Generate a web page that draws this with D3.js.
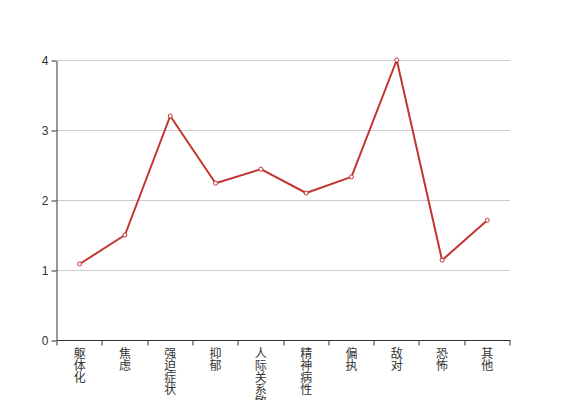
<!DOCTYPE html>
<html><head><meta charset="utf-8">
<script src="https://cdn.jsdelivr.net/npm/d3@7"></script>
<style>body{margin:0;background:#fff}svg{display:block}</style>
</head><body>
<svg id="c" width="567" height="400"></svg>
<script>
const categories = ["躯体化","焦虑","强迫症状","抑郁","人际关系敏感","精神病性","偏执","敌对","恐怖","其他"];
const values = [1.086, 1.5, 3.2, 2.24, 2.44, 2.1, 2.33, 4.0, 1.14, 1.71];
const yTicks = [0, 1, 2, 3, 4];

(function () {
const svg = d3.select("#c");
const mLeft = 57, mRight = 510, mTop = 60, mBottom = 340;
const x = d3.scaleBand().domain(categories).range([mLeft, mRight]);
const y = d3.scaleLinear().domain([0, 4]).range([mBottom, mTop]);
const font = "'Noto Sans CJK SC', 'DejaVu Sans', sans-serif";

// grid
svg.append("g").selectAll("line").data(yTicks.filter(d => d > 0)).join("line")
  .attr("x1", mLeft).attr("x2", mRight)
  .attr("y1", d => Math.round(y(d)) + 0.5).attr("y2", d => Math.round(y(d)) + 0.5)
  .attr("stroke", "#ccc").attr("stroke-width", 1);

// y axis
const ya = svg.append("g").attr("transform", `translate(${mLeft - 0.5},0.5)`)
  .call(d3.axisLeft(y).tickValues(yTicks).tickFormat(d3.format("d")).tickSize(5).tickPadding(3).tickSizeOuter(0));
ya.select(".domain").attr("stroke", "#333");
ya.selectAll(".tick line").attr("stroke", "#333");
ya.selectAll("text").attr("fill", "#333").style("font-size", "12px").style("font-family", "sans-serif");

// x axis
const xa = svg.append("g").attr("transform", `translate(0.5,${mBottom + 0.5})`)
  .call(d3.axisBottom(x).tickSize(0).tickFormat(""));
xa.select(".domain").attr("stroke", "#333").attr("d", `M${mLeft - 0.5},0H${mRight}`);
xa.selectAll(".tick").remove();
const bounds = categories.map(c => x(c)).concat([mRight]);
xa.selectAll("line.tk").data(bounds).join("line").attr("class", "tk")
  .attr("x1", d => Math.round(d) - 0.5).attr("x2", d => Math.round(d) - 0.5)
  .attr("y1", 0).attr("y2", 5).attr("stroke", "#333");

// x labels vertical
svg.append("g").selectAll("text").data(categories).join("text")
  .attr("fill", "#333").style("font-size", "12px").style("font-family", font)
  .style("writing-mode", "vertical-rl")
  .attr("text-anchor", "start")
  .attr("x", c => x(c) + x.bandwidth() / 2)
  .attr("y", 347)
  .text(c => c);

// line
const px = c => x(c) + x.bandwidth() / 2;
const data = categories.map((c, i) => ({c, v: values[i]}));
svg.append("path").datum(data)
  .attr("fill", "none").attr("stroke", "#c23531").attr("stroke-width", 2)
  .attr("stroke-linejoin", "bevel")
  .attr("d", d3.line().x(d => px(d.c)).y(d => y(d.v)));
svg.append("g").selectAll("circle").data(data).join("circle")
  .attr("cx", d => px(d.c)).attr("cy", d => y(d.v)).attr("r", 2)
  .attr("fill", "#fff").attr("stroke", "#c23531").attr("stroke-width", 1);
})();
</script>
</body></html>
